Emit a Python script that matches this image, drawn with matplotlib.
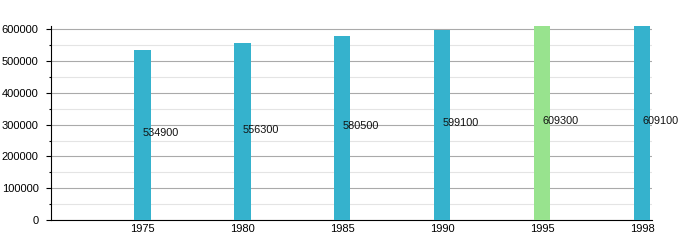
import matplotlib
matplotlib.use('Agg')
import matplotlib.pyplot as plt
from matplotlib.ticker import MultipleLocator

plt.rcParams['font.family'] = ['Liberation Sans', 'DejaVu Sans']

years = ['1975', '1980', '1985', '1990', '1995', '1998']
population = [534900, 556300, 580500, 599100, 609300, 609100]
bar_colors = ['#35b2cd', '#35b2cd', '#35b2cd', '#35b2cd', '#98e38e', '#35b2cd']

fig = plt.figure(figsize=(7, 2.5), dpi=100)
ax = fig.add_axes([0.0724, 0.12, 0.8586, 0.778])

x = list(range(len(years)))
ax.bar(x, population, width=0.167, color=bar_colors, zorder=3)

for xi, v in zip(x, population):
    ax.text(xi, v / 2 + 6000, str(v), ha='left', va='center', fontsize=7.8, color='#111111', zorder=4)

ax.set_xlim(-0.916, 5.097)
ax.set_ylim(0, 612000)
ax.set_xticks(x)
ax.set_xticklabels(years)
ax.set_yticks([0, 100000, 200000, 300000, 400000, 500000, 600000])
ax.yaxis.set_minor_locator(MultipleLocator(50000))

ax.grid(axis='y', which='major', color='#aaaaaa', linewidth=0.8, zorder=0)
ax.grid(axis='y', which='minor', color='#e4e4e4', linewidth=0.8, zorder=0)

ax.tick_params(axis='x', length=0, labelsize=8, pad=3)
ax.tick_params(axis='y', which='major', length=3.6, width=0.8, labelsize=8, pad=5)
ax.tick_params(axis='y', which='minor', length=1.8, width=0.8)

for side in ['top', 'right']:
    ax.spines[side].set_visible(False)
ax.spines['left'].set_color('black')
ax.spines['bottom'].set_color('black')
ax.spines['left'].set_bounds(0, 612000)

plt.savefig('out.png', dpi=100)
plt.close()
